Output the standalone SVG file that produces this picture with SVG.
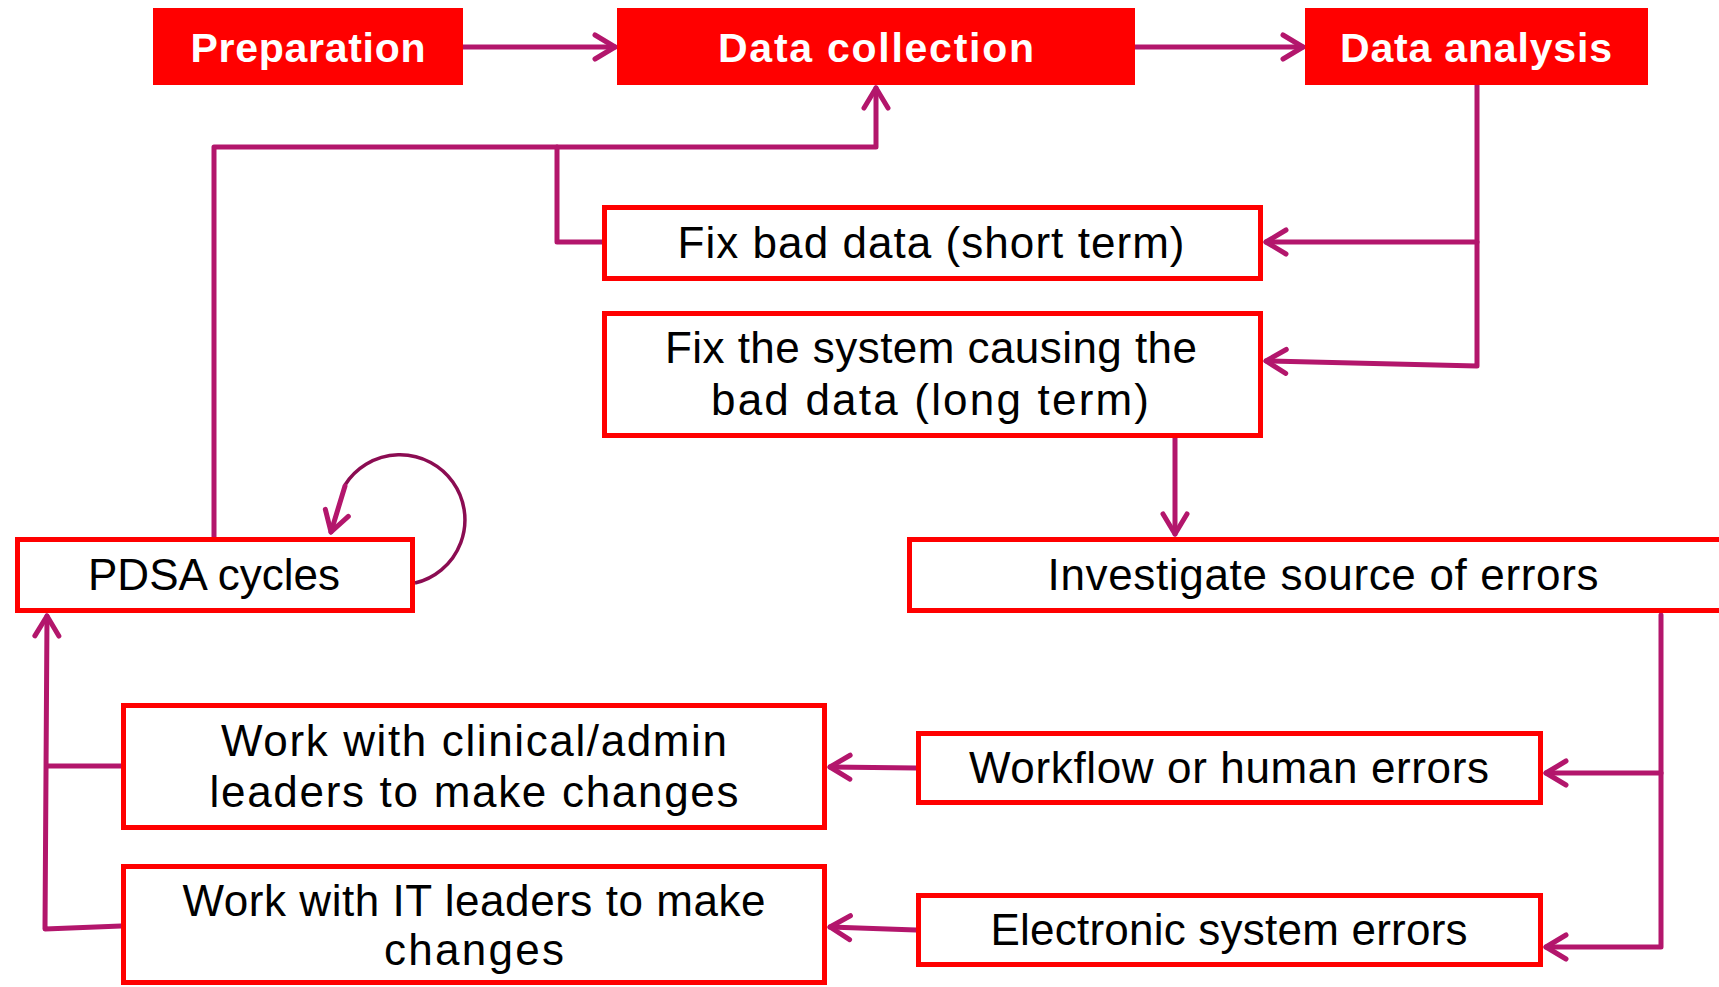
<svg xmlns="http://www.w3.org/2000/svg" width="1719" height="987" viewBox="0 0 1719 987">
<style>
.fill{fill:#FF0000;}
.box{fill:#FFFFFF;stroke:#FF0000;stroke-width:5;}
.tb{font-family:"Liberation Sans",Arial,sans-serif;font-weight:bold;font-size:41px;fill:#FFFFFF;text-anchor:middle;}
.t{font-family:"Liberation Sans",Arial,sans-serif;font-size:44px;fill:#000000;text-anchor:middle;}
.c{fill:none;stroke:#B3166C;stroke-width:5;stroke-linecap:round;stroke-linejoin:round;}
.loop{fill:none;stroke:#8B0C52;stroke-width:3.5;}
</style>
<defs>
<marker id="ah" viewBox="0 0 26 30" refX="23" refY="15" markerWidth="26" markerHeight="30" markerUnits="userSpaceOnUse" orient="auto">
<path d="M3,3 L23,15 L3,27" fill="none" stroke="#B3166C" stroke-width="5" stroke-linecap="round" stroke-linejoin="round"/>
</marker>
</defs>
<rect width="1719" height="987" fill="#FFFFFF"/>
<g id="connectors">
<path class="c" d="M463,47 L615,47" marker-end="url(#ah)"/>
<path class="c" d="M1135,47 L1303,47" marker-end="url(#ah)"/>
<path class="c" d="M1477,85 L1477,366 L1266,361" marker-end="url(#ah)"/>
<path class="c" d="M1477,242 L1266,242" marker-end="url(#ah)"/>
<path class="c" d="M602,242 L557,242 L557,147"/>
<path class="c" d="M214,537 L214,147 L876,147 L876,88" marker-end="url(#ah)"/>
<path class="c" d="M1175,438 L1175,534" marker-end="url(#ah)"/>
<path class="c" d="M1661,615 L1661,947 L1546,947" marker-end="url(#ah)"/>
<path class="c" d="M1661,773 L1546,773" marker-end="url(#ah)"/>
<path class="c" d="M916,768 L830,767" marker-end="url(#ah)"/>
<path class="c" d="M916,930 L830,927" marker-end="url(#ah)"/>
<path class="c" d="M121,766 L47,766"/>
<path class="c" d="M121,926 L45,929 L47,616" marker-end="url(#ah)"/>
<path class="loop" d="M415,583 A65,65 0 1 0 345,485"/>
<path class="c" d="M345,486 L331,532" marker-end="url(#ah)"/>
</g>
<g id="preparation">
<rect class="fill" x="153" y="8" width="310" height="77"/>
<text class="tb" x="308" y="62" textLength="235">Preparation</text>
</g>
<g id="data-collection">
<rect class="fill" x="617" y="8" width="518" height="77"/>
<text class="tb" x="876" y="62" textLength="316">Data collection</text>
</g>
<g id="data-analysis">
<rect class="fill" x="1305" y="8" width="343" height="77"/>
<text class="tb" x="1476" y="62" textLength="272">Data analysis</text>
</g>
<g id="fix-bad-data">
<rect class="box" x="604.5" y="207.5" width="656" height="71"/>
<text class="t" x="931" y="258" textLength="507">Fix bad data (short term)</text>
</g>
<g id="fix-system">
<rect class="box" x="604.5" y="313.5" width="656" height="122"/>
<text class="t" x="931" y="363" textLength="532">Fix the system causing the</text>
<text class="t" x="930" y="415" textLength="438">bad data (long term)</text>
</g>
<g id="pdsa">
<rect class="box" x="17.5" y="539.5" width="395" height="71"/>
<text class="t" x="214" y="590" textLength="252">PDSA cycles</text>
</g>
<g id="investigate">
<rect class="box" x="909.5" y="539.5" width="840" height="71"/>
<text class="t" x="1323" y="590" textLength="551">Investigate source of errors</text>
</g>
<g id="workflow">
<rect class="box" x="918.5" y="733.5" width="622" height="69"/>
<text class="t" x="1229" y="783" textLength="520">Workflow or human errors</text>
</g>
<g id="electronic">
<rect class="box" x="918.5" y="895.5" width="622" height="69"/>
<text class="t" x="1229" y="945" textLength="477">Electronic system errors</text>
</g>
<g id="clinical">
<rect class="box" x="123.5" y="705.5" width="701" height="122"/>
<text class="t" x="474" y="756" textLength="506">Work with clinical/admin</text>
<text class="t" x="474" y="807" textLength="529">leaders to make changes</text>
</g>
<g id="it">
<rect class="box" x="123.5" y="866.5" width="701" height="116"/>
<text class="t" x="474" y="916" textLength="583">Work with IT leaders to make</text>
<text class="t" x="474" y="965" textLength="180">changes</text>
</g>
</svg>
